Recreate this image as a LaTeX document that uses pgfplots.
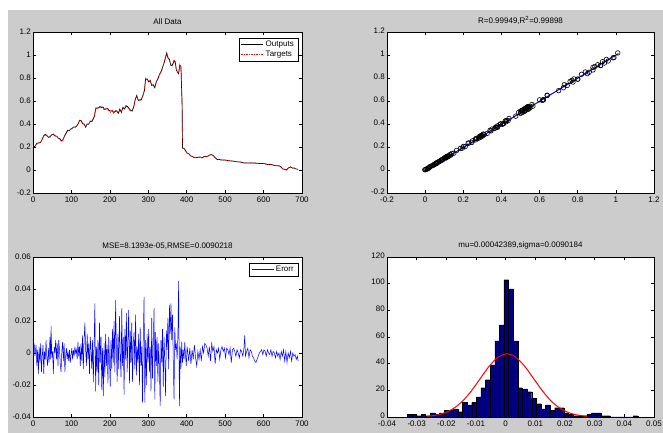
\documentclass[border=0pt]{standalone}
\usepackage{fontspec}
\setmainfont{Liberation Sans}
\usepackage{pgfplots}
\usepackage{pgfplotstable}
\pgfplotsset{compat=1.18}
\definecolor{figgray}{rgb}{0.8,0.8,0.8}
\definecolor{hnavy}{rgb}{0,0,0.5}

% x, targets, outputs
\pgfplotstableread{
x t o
0 0.200 0.205
5 0.210 0.204
10 0.225 0.232
15 0.230 0.236
20 0.245 0.240
25 0.270 0.276
28 0.300 0.296
32 0.305 0.310
36 0.295 0.300
40 0.290 0.284
45 0.285 0.292
49 0.310 0.306
53 0.305 0.312
57 0.300 0.296
62 0.290 0.294
66 0.280 0.276
70 0.265 0.272
74 0.248 0.254
78 0.265 0.262
82 0.290 0.296
86 0.325 0.318
90 0.340 0.345
94 0.345 0.340
98 0.350 0.356
102 0.365 0.362
106 0.370 0.374
110 0.375 0.372
114 0.380 0.384
118 0.410 0.404
121 0.435 0.430
125 0.425 0.430
129 0.410 0.402
133 0.395 0.400
137 0.380 0.372
141 0.395 0.400
145 0.405 0.398
149 0.420 0.426
153 0.425 0.420
157 0.440 0.448
160 0.475 0.468
163 0.540 0.530
166 0.530 0.540
170 0.545 0.538
174 0.540 0.552
178 0.550 0.542
182 0.535 0.548
186 0.520 0.528
190 0.540 0.530
194 0.525 0.535
198 0.510 0.518
202 0.500 0.512
206 0.525 0.515
210 0.490 0.500
214 0.520 0.510
218 0.505 0.515
222 0.500 0.492
226 0.520 0.530
230 0.510 0.500
234 0.535 0.545
238 0.540 0.530
242 0.565 0.555
246 0.545 0.552
250 0.525 0.535
254 0.510 0.520
258 0.520 0.512
262 0.540 0.548
266 0.620 0.610
270 0.640 0.648
274 0.615 0.605
278 0.600 0.610
282 0.620 0.612
286 0.640 0.650
290 0.700 0.690
293 0.800 0.790
297 0.780 0.792
301 0.775 0.765
305 0.770 0.780
309 0.745 0.735
313 0.730 0.742
317 0.725 0.715
321 0.760 0.770
325 0.800 0.790
329 0.820 0.832
333 0.860 0.850
337 0.880 0.892
341 0.940 0.930
345 0.990 0.978
348 1.010 1.018
351 0.985 0.975
355 0.950 0.962
359 0.920 0.908
363 0.905 0.915
367 0.960 0.948
370 0.930 0.942
373 0.880 0.870
376 0.840 0.852
379 0.850 0.838
382 0.920 0.910
385 0.890 0.900
388 0.560 0.570
389 0.195 0.190
393 0.185 0.188
397 0.165 0.170
401 0.150 0.146
405 0.140 0.144
410 0.125 0.122
415 0.115 0.118
420 0.110 0.106
425 0.105 0.108
430 0.112 0.110
435 0.110 0.114
440 0.108 0.104
445 0.115 0.118
450 0.120 0.116
455 0.118 0.121
460 0.135 0.130
465 0.130 0.134
470 0.125 0.122
475 0.100 0.104
480 0.092 0.090
485 0.090 0.092
490 0.088 0.086
500 0.085 0.087
510 0.082 0.080
520 0.076 0.078
530 0.073 0.071
540 0.068 0.070
550 0.062 0.060
560 0.060 0.062
570 0.062 0.060
580 0.058 0.060
590 0.058 0.056
600 0.055 0.057
610 0.050 0.048
620 0.046 0.048
630 0.040 0.038
640 0.035 0.037
645 0.025 0.028
650 0.012 0.010
655 0.002 0.004
660 -0.002 0.002
665 0.020 0.018
670 0.025 0.027
675 0.018 0.016
680 0.015 0.017
685 0.010 0.008
690 0.005 0.007
}\series

\pgfplotstableread{
x e
0 -0.004
3 0.006
5 -0.002
8 0.005
10 -0.008
12 0.002
14 -0.013
16 0.004
18 -0.006
20 0.006
22 -0.012
24 -0.002
26 0.005
28 -0.013
30 0.001
32 -0.004
34 0.008
36 -0.003
38 -0.008
40 0.003
42 -0.006
44 0.010
46 -0.004
47 0.017
49 -0.003
51 0.001
53 -0.013
55 0.004
57 0.000
59 0.008
61 -0.004
63 0.006
65 -0.008
67 0.008
69 0.002
71 -0.007
73 -0.012
75 0.001
77 0.007
79 -0.005
81 0.006
83 -0.012
85 -0.002
87 0.003
89 -0.004
91 0.001
93 -0.005
95 0.002
97 -0.006
99 -0.001
101 0.003
103 -0.004
105 0.002
107 -0.002
109 0.004
111 0.000
113 0.002
115 -0.004
117 0.007
119 -0.002
121 0.004
123 -0.008
125 0.006
127 -0.005
129 0.011
131 -0.010
133 0.008
135 0.019
137 0.002
139 -0.008
141 0.012
143 -0.004
145 0.006
147 -0.013
149 0.010
151 0.002
153 -0.010
155 0.008
157 -0.018
159 0.005
161 0.031
163 -0.024
165 0.004
167 -0.012
169 0.008
171 -0.020
173 0.019
175 -0.006
177 0.010
179 -0.023
181 0.003
183 -0.027
185 0.006
187 -0.015
189 0.012
191 -0.008
193 0.005
195 -0.019
197 0.010
199 -0.004
201 -0.021
203 0.008
205 -0.010
207 0.015
209 -0.006
211 0.020
213 -0.012
215 0.033
217 0.004
219 -0.018
221 0.012
223 -0.010
225 0.023
227 0.000
229 -0.015
231 0.028
233 -0.008
235 0.010
237 -0.026
239 0.015
241 -0.004
243 0.025
245 -0.012
247 0.008
249 0.027
251 -0.019
253 0.014
255 -0.006
257 0.019
259 -0.018
261 0.006
263 0.013
265 -0.010
267 0.024
269 -0.014
271 0.004
273 -0.006
275 0.012
277 -0.020
279 0.016
281 -0.008
283 0.004
285 -0.031
287 0.010
289 0.035
291 -0.031
293 0.008
295 -0.020
297 0.012
299 -0.006
301 0.015
303 -0.012
305 0.004
307 -0.024
309 0.022
311 -0.016
313 0.006
315 0.028
317 -0.029
319 0.013
321 -0.008
323 0.010
325 -0.018
327 0.006
329 -0.010
331 -0.033
333 0.008
335 -0.006
337 0.015
339 -0.021
341 0.010
343 -0.004
345 -0.027
347 0.014
349 0.002
351 0.022
353 -0.010
355 0.030
357 0.012
359 0.031
361 0.008
363 0.024
365 -0.005
367 -0.029
369 0.016
371 0.002
373 0.006
375 -0.004
377 0.010
379 0.045
381 -0.033
383 0.004
385 -0.010
387 0.007
389 -0.006
391 0.002
393 -0.004
395 0.007
397 -0.002
399 -0.008
401 0.004
403 0.000
405 -0.005
408 0.003
411 -0.007
414 0.002
417 -0.004
420 0.005
423 -0.003
426 -0.008
429 0.001
432 -0.004
435 0.002
438 -0.005
441 0.004
444 0.000
447 0.006
450 0.005
453 0.003
456 -0.002
459 0.004
462 -0.005
465 0.006
468 0.001
471 0.004
474 -0.007
477 0.002
480 0.000
483 0.003
486 -0.004
489 0.002
492 0.004
495 0.001
498 0.003
501 -0.003
504 0.003
507 0.002
510 -0.001
513 0.003
516 -0.006
519 0.002
522 0.003
525 0.001
528 -0.002
531 0.002
534 0.000
537 -0.003
540 0.002
543 0.001
546 -0.002
549 0.003
551 0.011
553 -0.002
556 0.001
559 0.003
562 -0.003
565 0.002
568 0.001
571 -0.002
574 -0.003
577 -0.005
580 -0.006
583 -0.004
586 -0.002
589 0.000
592 0.001
595 0.002
598 -0.001
601 0.002
604 0.001
607 -0.002
610 0.002
613 0.000
616 -0.001
619 0.002
622 -0.002
625 0.001
628 0.000
631 -0.003
634 0.001
637 -0.002
640 0.000
643 -0.004
646 0.001
649 -0.002
652 0.002
655 -0.005
658 0.001
661 -0.006
664 0.000
667 -0.003
670 0.001
673 -0.005
676 0.000
679 -0.002
682 -0.001
685 -0.004
688 -0.002
690 -0.005
}\errtab

% histogram: left bin edges and counts (last row closes the interval)
\pgfplotstableread{
x n
-0.03320 2
-0.03165 2
-0.03009 1
-0.02854 2
-0.02698 1
-0.02543 3
-0.02388 2
-0.02232 3
-0.02077 5
-0.01921 5
-0.01766 6
-0.01611 4
-0.01455 11
-0.01300 9
-0.01144 11
-0.00989 15
-0.00834 22
-0.00678 28
-0.00523 39
-0.00367 57
-0.00212 69
-0.00057 103
0.00099 96
0.00254 57
0.00410 22
0.00565 21
0.00720 19
0.00876 14
0.01031 10
0.01187 6
0.01342 9
0.01497 5
0.01653 7
0.01808 7
0.01964 3
0.02119 2
0.02274 1
0.02430 1
0.02585 1
0.02741 2
0.02896 3
0.03051 3
0.03207 1
0.03362 1
0.03518 0
0.03673 0
0.03828 0
0.03984 0
0.04139 0
0.04295 1
0.04450 0
}\histtab

\pgfplotstableread{
x f
-0.02658 0.53
-0.02358 1.36
-0.02058 3.1
-0.01758 6.4
-0.01458 11.8
-0.01158 19.5
-0.00858 28.8
-0.00558 38.0
-0.00258 44.8
0.00042 47.4
0.00342 44.8
0.00642 38.0
0.00942 28.8
0.01242 19.5
0.01542 11.8
0.01842 6.4
0.02142 3.1
0.02442 1.36
0.02742 0.53
}\fittab

\pgfplotsset{
  mlab/.style={
    scale only axis, anchor=south west,
    axis background/.style={fill=white},
    axis line style={black, line width=0.5pt},
    tick style={black, line width=0.5pt},
    major tick length=3pt,
    tick label style={font=\fontsize{8}{9}\selectfont},
    yticklabel style={inner sep=2pt},
    title style={font=\fontsize{8}{9}\selectfont, yshift=-2pt},
    /pgf/number format/assume math mode=true,
    /pgf/number format/.cd, fixed, precision=3, /pgfplots/.cd,
    scaled x ticks=false, scaled y ticks=false,
    legend style={font=\fontsize{8}{9}\selectfont, draw=black, fill=white,
      inner xsep=2pt, inner ysep=1pt, row sep=-1pt},
    legend cell align=left,
    legend image code/.code={\draw[##1] (0pt,0pt) -- (22pt,0pt);},
  }
}

\begin{document}
\begin{tikzpicture}
\useasboundingbox (0,0) rectangle (663pt,433pt);
\fill[figgray] (8pt,0pt) rectangle (663pt,423pt);

% top left: time series
\begin{axis}[mlab, at={(33pt,240pt)}, width=269pt, height=161pt,
  xmin=0, xmax=700, ymin=-0.2, ymax=1.2,
  xtick={0,100,200,300,400,500,600,700},
  ytick={-0.2,0,0.2,0.4,0.6,0.8,1,1.2},
  title={All Data},
  legend style={at={(0.985,0.963)}, anchor=north east}]
\addplot[black, line width=0.7pt] table[x=x, y=o] {\series};
\addplot[red, line width=0.5pt, dash pattern=on 1.5pt off 1pt] table[x=x, y=t] {\series};
\legend{Outputs, Targets}
\end{axis}

% top right: regression
\begin{axis}[mlab, at={(387pt,240pt)}, width=267pt, height=161pt,
  xmin=-0.2, xmax=1.2, ymin=-0.2, ymax=1.2,
  xtick={-0.2,0,0.2,0.4,0.6,0.8,1,1.2},
  ytick={-0.2,0,0.2,0.4,0.6,0.8,1,1.2},
  yticklabel style={yshift=1pt},
  title={R=0.99949,R\textsuperscript{2}=0.99898}]
\addplot[only marks, mark=o, mark size=2.3pt, black, mark options={line width=0.6pt}]
  table[x=t, y=o] {\series};
\addplot[blue, line width=1pt] coordinates {(0,-0.005) (1.013,1.012)};
\end{axis}

% bottom left: error
\begin{axis}[mlab, at={(33pt,16pt)}, width=269pt, height=160pt,
  xmin=0, xmax=700, ymin=-0.04, ymax=0.06,
  xtick={0,100,200,300,400,500,600,700},
  ytick={-0.04,-0.02,0,0.02,0.04,0.06},
  title={MSE=8.1393e-05,RMSE=0.0090218},
  legend style={at={(0.985,0.9625)}, anchor=north east}]
\addplot[blue, line width=0.5pt] table[x=x, y=e] {\errtab};
\legend{Erorr}
\end{axis}

% bottom right: histogram
\begin{axis}[mlab, at={(387pt,16pt)}, width=267pt, height=160pt,
  xmin=-0.04, xmax=0.05, ymin=0, ymax=120,
  xtick={-0.04,-0.03,-0.02,-0.01,0,0.01,0.02,0.03,0.04,0.05},
  ytick={0,20,40,60,80,100,120},
  yticklabel style={yshift=1.5pt},
  title={mu=0.00042389,sigma=0.0090184}]
\addplot[ybar interval, fill=hnavy, draw=black, line width=0.3pt] table[x=x, y=n] {\histtab};
\addplot[red, line width=1pt, smooth] table[x=x, y=f] {\fittab};
\end{axis}
\end{tikzpicture}
\end{document}
